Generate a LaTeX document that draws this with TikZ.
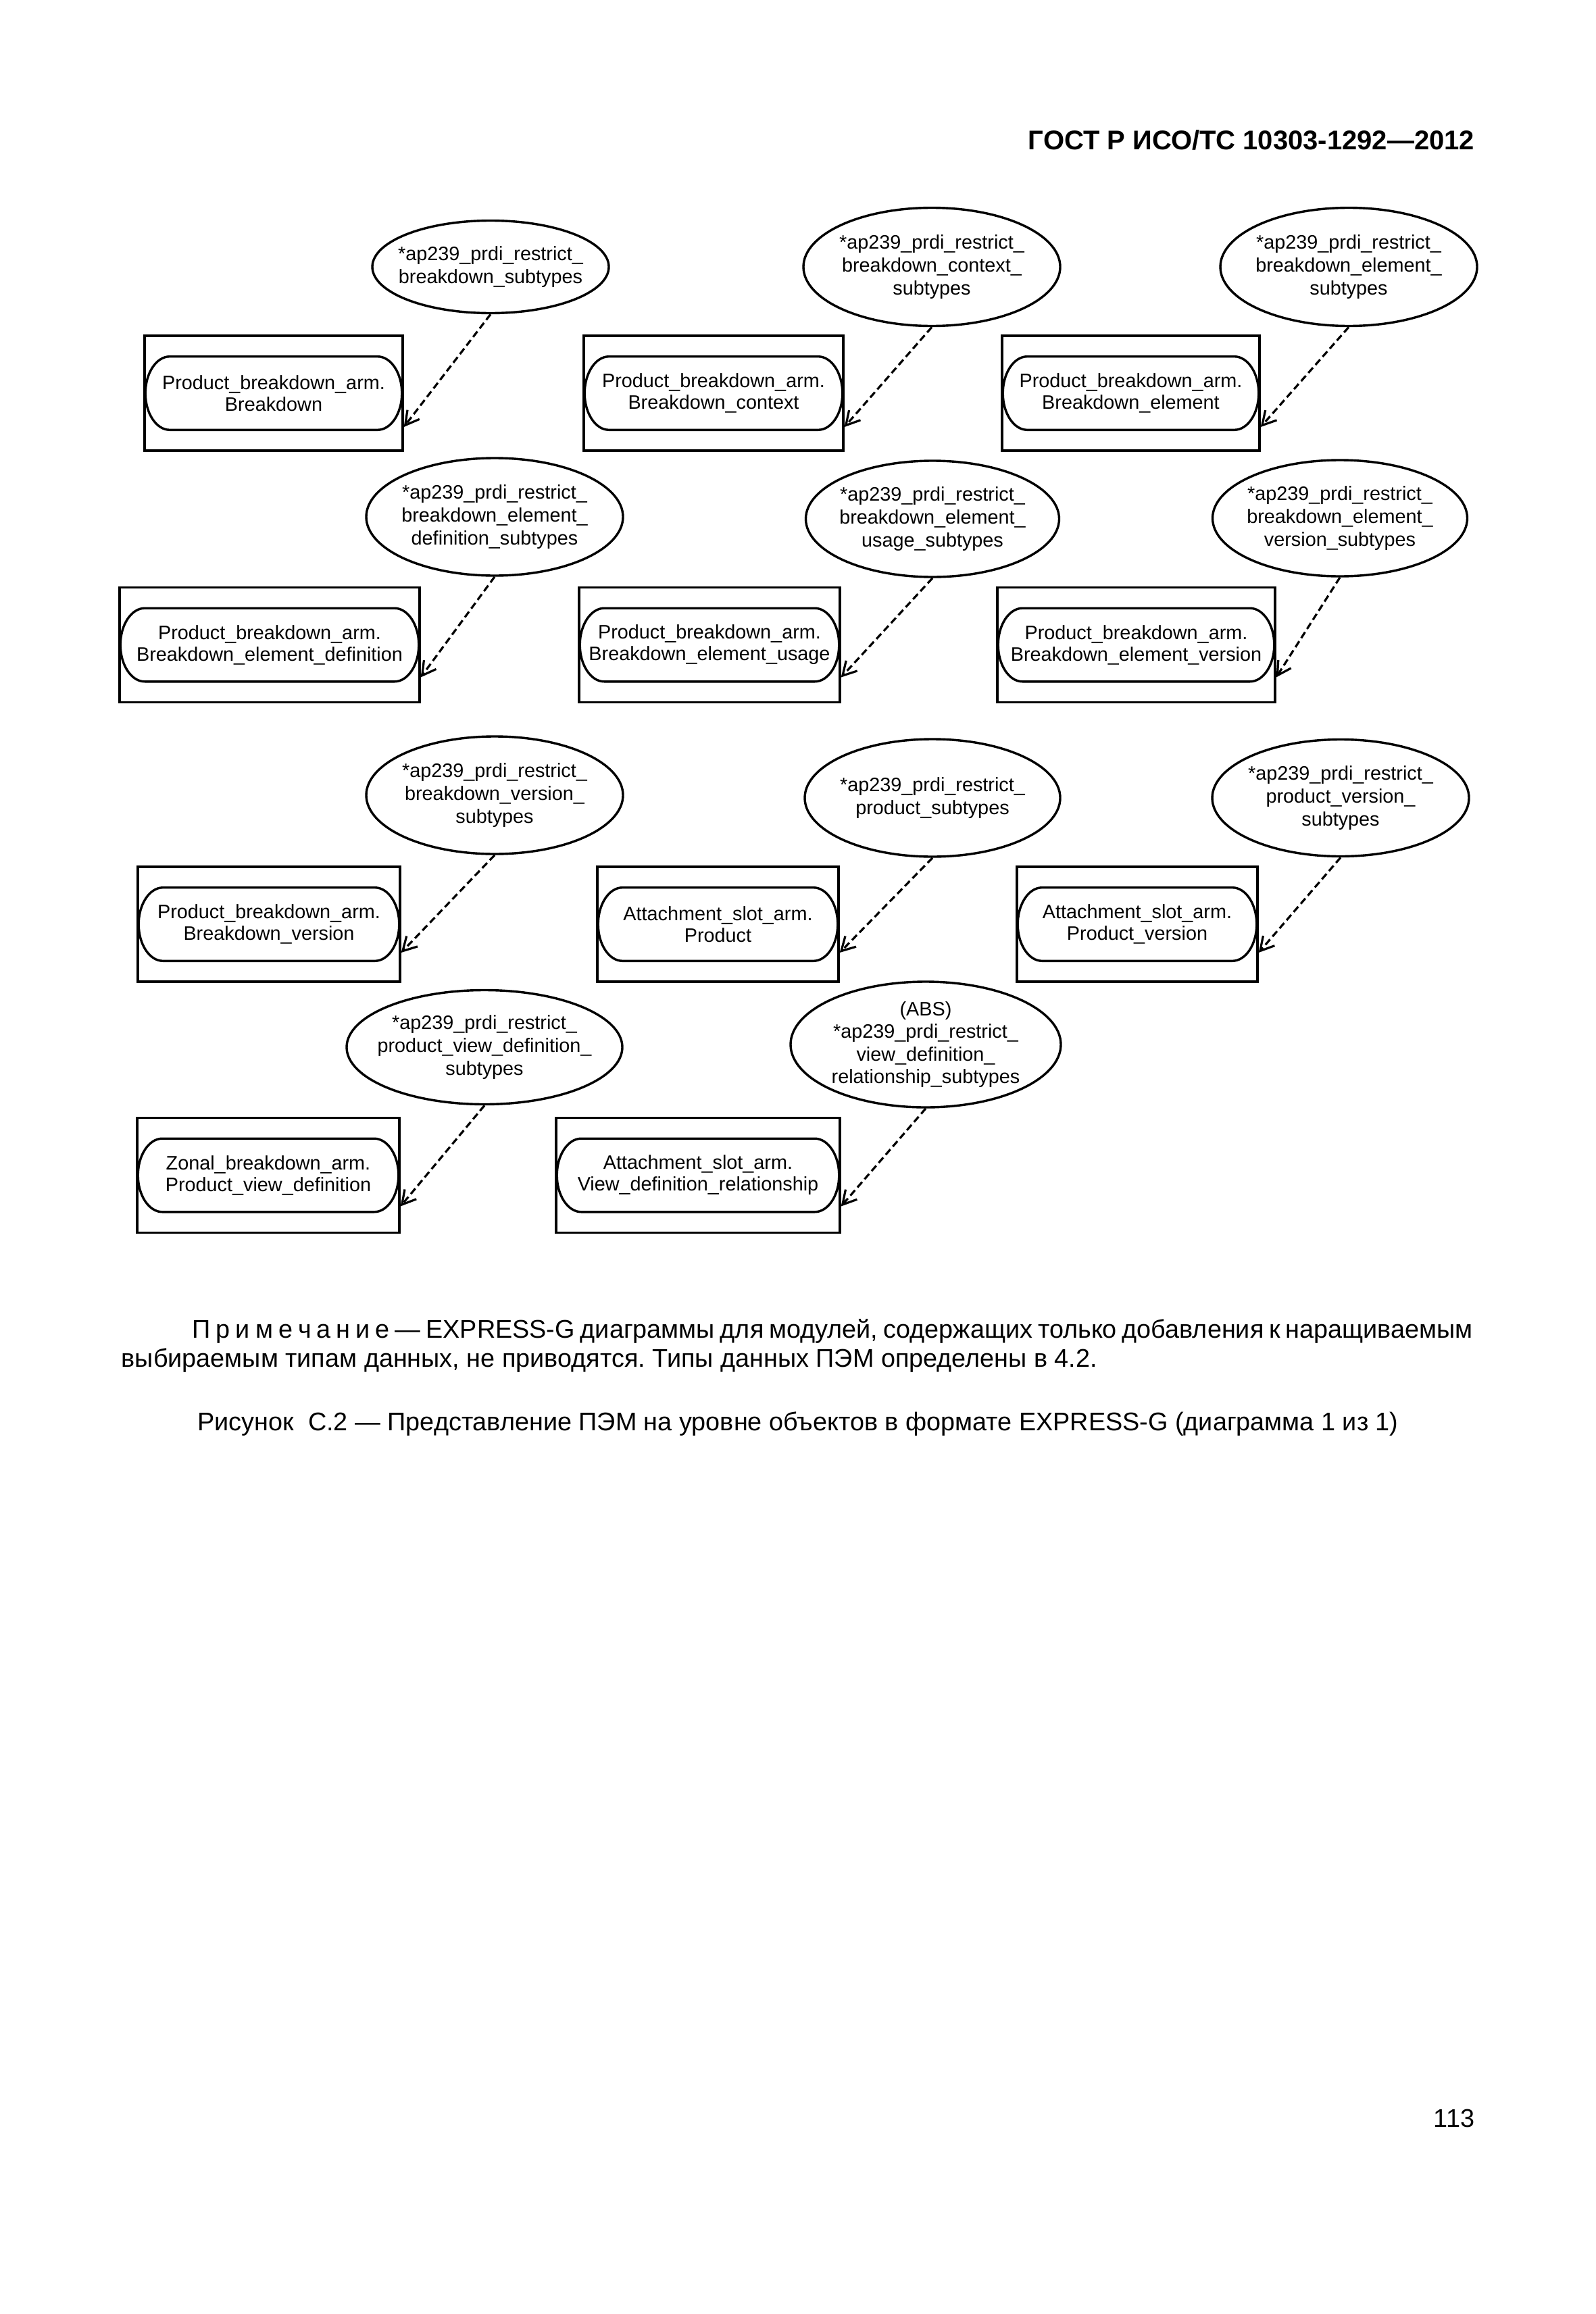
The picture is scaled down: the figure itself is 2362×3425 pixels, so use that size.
\documentclass[tikz,border=0pt]{standalone}
\usepackage{fontspec}
\setmainfont{Liberation Sans}
\usetikzlibrary{calc,arrows.meta,shapes.geometric}
\frenchspacing

\tikzset{
 ln/.style={line width=0.85pt},
 obox/.style={draw, line width=0.85pt, rectangle, minimum height=170*0.25pt, inner sep=0pt},
 itxt/.style={rectangle, minimum height=107*0.25pt, inner sep=0pt, align=center, font=\fontsize{7.2pt}{8pt}\selectfont},
 elps/.style={draw, ellipse, line width=0.85pt, inner sep=0pt},
 etxt/.style={align=center, inner sep=0pt, font=\fontsize{7.2pt}{8.4pt}\selectfont},
 dep/.style={line width=0.8pt, dash pattern=on 2.6pt off 1.4pt, -{Straight Barb[length=5pt,width=5.6pt]}},
 body/.style={inner sep=0pt, font=\fontsize{9.45pt}{11pt}\selectfont},
}

% #1 name, #2 cx, #3 cy, #4 width (px), #5 text
\newcommand\entbox[5]{%
  \node[obox, minimum width=#4*0.25pt] (#1) at (#2,#3) {};
  \node[itxt, minimum width=(#4-4)*0.25pt] (#1i) at (#2,#3) {#5};
  \draw[ln] ($(#1i.north west)+(36,0)$) -- ($(#1i.north east)+(-36,0)$)
    .. controls ($(#1i.north east)+(-16,0)$) and ($(#1i.east)+(0,-29.5)$) .. (#1i.east)
    .. controls ($(#1i.east)+(0,29.5)$) and ($(#1i.south east)+(-16,0)$) .. ($(#1i.south east)+(-36,0)$)
    -- ($(#1i.south west)+(36,0)$)
    .. controls ($(#1i.south west)+(16,0)$) and ($(#1i.west)+(0,29.5)$) .. (#1i.west)
    .. controls ($(#1i.west)+(0,-29.5)$) and ($(#1i.north west)+(16,0)$) .. ($(#1i.north west)+(36,0)$) -- cycle;
}
% #1 name, #2 cx, #3 cy, #4 w, #5 h, #6 text
\newcommand\relps[6]{%
  \node[elps, minimum width=#4*0.25pt, minimum height=#5*0.25pt] (#1) at (#2,#3) {};
  \node[etxt] (#1t) at (#1.center) {#6};
}
% #1 ellipse, #2 box, #3 yshift
\newcommand\deparrow[3]{\draw[dep] (#1.south) -- ([yshift=#3]#2.east);}

\begin{document}
\begin{tikzpicture}[x=0.25pt, y=-0.25pt]
\fill[white] (0,0) rectangle (2362,3425);
\useasboundingbox (0,0) rectangle (2362,3425);

\node[anchor=base east, inner sep=0pt, font=\bfseries\fontsize{10pt}{12pt}\selectfont] (hdr) at (2183,222) {ГОСТ Р ИСО/ТС 10303-1292—2012};

% Row 1
\entbox{b1}{405}{582}{382}{Product\_breakdown\_arm.\\Breakdown}
\entbox{b2}{1056}{582}{384}{Product\_breakdown\_arm.\\Breakdown\_context}
\entbox{b3}{1673.5}{582}{381}{Product\_breakdown\_arm.\\Breakdown\_element}
\relps{e1}{726}{395}{350}{137}{*ap239\_prdi\_restrict\_\\breakdown\_subtypes}
\relps{e2}{1379}{395}{380}{175}{*ap239\_prdi\_restrict\_\\breakdown\_context\_\\subtypes}
\relps{e3}{1996}{395}{380}{175}{*ap239\_prdi\_restrict\_\\breakdown\_element\_\\subtypes}
\deparrow{e1}{b1}{-12.5pt}
\deparrow{e2}{b2}{-12.5pt}
\deparrow{e3}{b3}{-12.5pt}

% Row 2
\entbox{b4}{399}{954.5}{444}{Product\_breakdown\_arm.\\Breakdown\_element\_definition}
\entbox{b5}{1050}{954.5}{386}{Product\_breakdown\_arm.\\Breakdown\_element\_usage}
\entbox{b6}{1681.5}{954.5}{411}{Product\_breakdown\_arm.\\Breakdown\_element\_version}
\relps{e4}{732}{765}{380}{174}{*ap239\_prdi\_restrict\_\\breakdown\_element\_\\definition\_subtypes}
\relps{e5}{1380}{768}{375}{172}{*ap239\_prdi\_restrict\_\\breakdown\_element\_\\usage\_subtypes}
\relps{e6}{1983}{767}{377}{172}{*ap239\_prdi\_restrict\_\\breakdown\_element\_\\version\_subtypes}
\deparrow{e4}{b4}{-12pt}
\deparrow{e5}{b5}{-12pt}
\deparrow{e6}{b6}{-12pt}

% Row 3
\entbox{b7}{398}{1368}{388}{Product\_breakdown\_arm.\\Breakdown\_version}
\entbox{b8}{1062.5}{1368}{357}{Attachment\_slot\_arm.\\Product}
\entbox{b9}{1683}{1368}{356}{Attachment\_slot\_arm.\\Product\_version}
\relps{e7}{732}{1177}{380}{174}{*ap239\_prdi\_restrict\_\\breakdown\_version\_\\subtypes}
\relps{e8}{1380}{1181}{378}{174}{*ap239\_prdi\_restrict\_\\product\_subtypes}
\relps{e9}{1984}{1181}{380}{173}{*ap239\_prdi\_restrict\_\\product\_version\_\\subtypes}
\deparrow{e7}{b7}{-10.5pt}
\deparrow{e8}{b8}{-10.5pt}
\deparrow{e9}{b9}{-10.5pt}

% Row 4
\entbox{b10}{397}{1739.5}{388}{Zonal\_breakdown\_arm.\\Product\_view\_definition}
\entbox{b11}{1033}{1739.5}{420}{Attachment\_slot\_arm.\\View\_definition\_relationship}
\relps{e10}{717}{1550}{408}{169}{*ap239\_prdi\_restrict\_\\product\_view\_definition\_\\subtypes}
\relps{e11}{1370}{1546}{400}{186}{(ABS)\\*ap239\_prdi\_restrict\_\\view\_definition\_\\relationship\_subtypes}
\deparrow{e10}{b10}{-11.5pt}
\deparrow{e11}{b11}{-11.5pt}

% Note and caption
\node[body, anchor=base west] (n1) at (284,1980) {\makebox[473.75pt][s]{П\kern2ptр\kern2ptи\kern2ptм\kern2ptе\kern2ptч\kern2ptа\kern2ptн\kern2ptи\kern2ptе — EXPRESS-G диаграммы для модулей, содержащих только добавления к наращиваемым}};
\node[body, anchor=base west] (n2) at (179,2023) {выбираемым типам данных, не приводятся. Типы данных ПЭМ определены в 4.2.};
\node[body, anchor=base] (cap) at (1181,2117) {Рисунок\ \ С.2 — Представление ПЭМ на уровне объектов в формате EXPRESS-G (диаграмма 1 из 1)};

\node[body, anchor=base east] (pg) at (2183,3148) {113};
\end{tikzpicture}
\end{document}
